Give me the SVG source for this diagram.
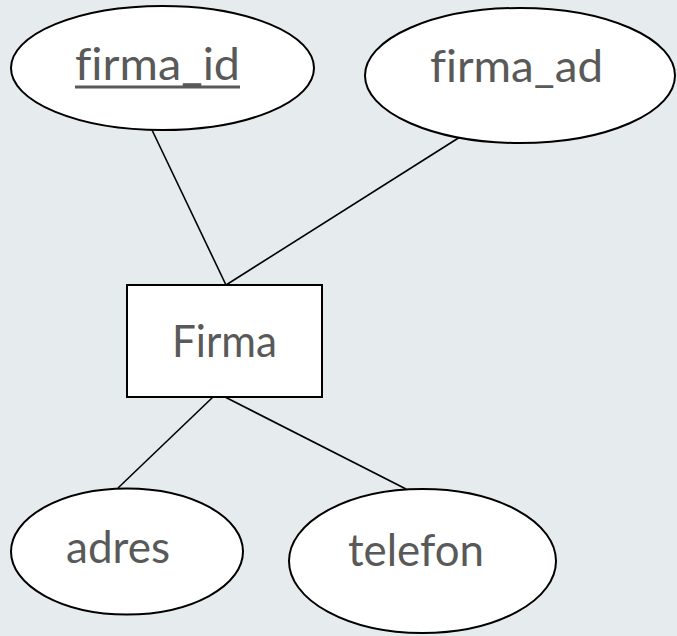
<svg xmlns="http://www.w3.org/2000/svg" width="677" height="636" viewBox="0 0 677 636">
<style>
.bg{fill:#e6ebee}
.shape{fill:#ffffff;stroke:#000000;stroke-width:2}
.lbl{font-family:Lato,"Open Sans","Liberation Sans",sans-serif;font-size:44px;fill:#595959;font-variant-ligatures:none}
.conn line{stroke:#000000;stroke-width:1.6}
</style>
<rect class="bg" x="0" y="0" width="677" height="636"/>
<g id="connectors" class="conn">
<line x1="152" y1="130" x2="226" y2="285"/>
<line x1="460" y1="137" x2="226" y2="285"/>
<line x1="213" y1="397" x2="118" y2="488"/>
<line x1="225" y1="397" x2="406" y2="489"/>
</g>
<g id="firma_id">
<ellipse class="shape" cx="162.5" cy="68" rx="151.5" ry="62"/>
<text class="lbl" x="75" y="80" textLength="165" lengthAdjust="spacingAndGlyphs">firma_id</text>
<rect x="75" y="85.5" width="165" height="3" fill="#595959"/>
</g>
<g id="firma_ad">
<ellipse class="shape" cx="520" cy="75.5" rx="155" ry="67.5"/>
<text class="lbl" x="430" y="82" textLength="173" lengthAdjust="spacingAndGlyphs">firma_ad</text>
</g>
<g id="Firma">
<rect class="shape" x="127" y="285" width="195" height="112"/>
<text class="lbl" x="172" y="357" textLength="105" lengthAdjust="spacingAndGlyphs">Firma</text>
</g>
<g id="adres">
<ellipse class="shape" cx="127" cy="551.5" rx="116" ry="63"/>
<text class="lbl" x="66" y="563" textLength="104" lengthAdjust="spacingAndGlyphs">adres</text>
</g>
<g id="telefon">
<ellipse class="shape" cx="422.5" cy="561" rx="133.5" ry="72"/>
<text class="lbl" x="348" y="566" textLength="136" lengthAdjust="spacingAndGlyphs">telefon</text>
</g>
</svg>
